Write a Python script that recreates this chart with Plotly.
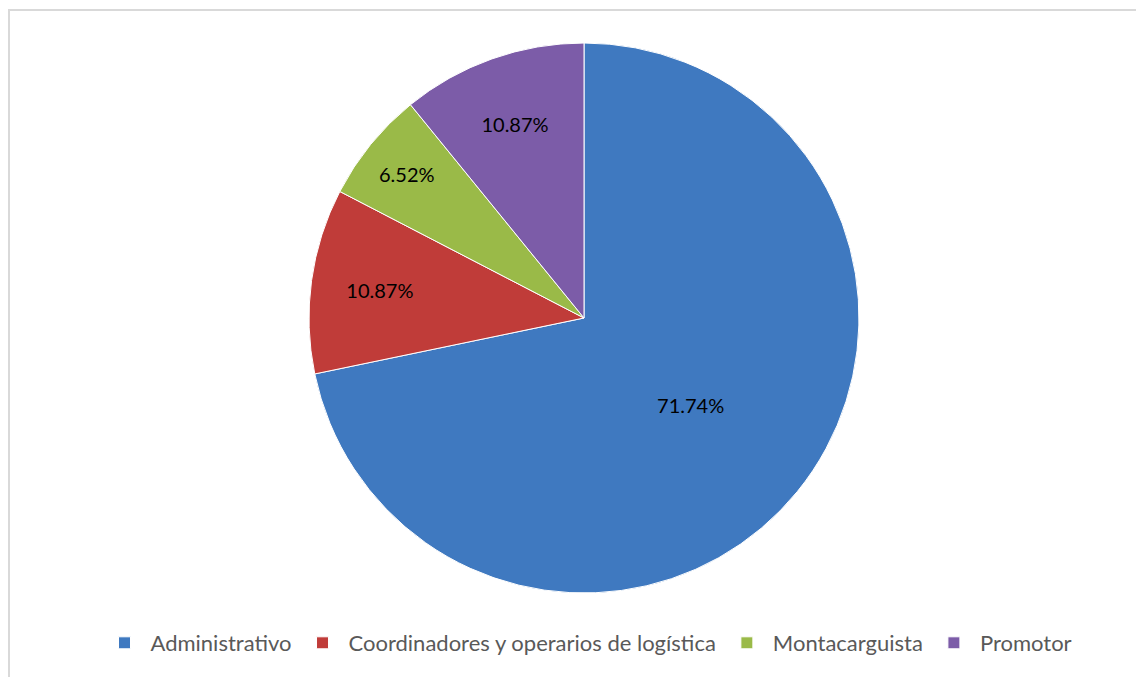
import plotly.graph_objects as go

W, H = 1144, 677
OFF = 8  # page body margin in the browser

categories = ["Administrativo", "Coordinadores y operarios de logística", "Montacarguista", "Promotor"]
values = [33, 5, 3, 5]
colors = ["#3f79c0", "#c03c39", "#9aba48", "#7c5ca8"]


def px(x):
    return (x - OFF) / W


def py(y):
    return 1 - (y - OFF) / H


fig = go.Figure()

fig.add_trace(go.Pie(
    labels=categories,
    values=values,
    sort=False,
    direction="clockwise",
    rotation=0,
    marker=dict(colors=colors, line=dict(color="white", width=1)),
    texttemplate="%{percent:.2%}",
    textposition="inside",
    insidetextorientation="horizontal",
    textfont=dict(color="black", size=20, family="Lato"),
    domain=dict(x=[px(309), px(859)], y=[py(593), py(43)]),
))

# chart-area border (left edge kept inside the svg)
fig.add_shape(
    type="rect", xref="paper", yref="paper",
    x0=1 / W, x1=1.02, y0=-0.02, y1=py(10),
    line=dict(color="#d9d9d9", width=2), fillcolor="rgba(0,0,0,0)",
)

fig.update_layout(
    width=W,
    height=H,
    paper_bgcolor="white",
    plot_bgcolor="white",
    margin=dict(l=0, r=0, t=0, b=0),
    font=dict(family="Lato", color="#595959"),
    showlegend=True,
    legend=dict(
        orientation="h",
        xanchor="center", x=px(588),
        yanchor="middle", y=py(643),
        font=dict(size=22, color="#595959"),
        itemwidth=42,
        traceorder="normal",
    ),
)

fig.write_html("out.html")
